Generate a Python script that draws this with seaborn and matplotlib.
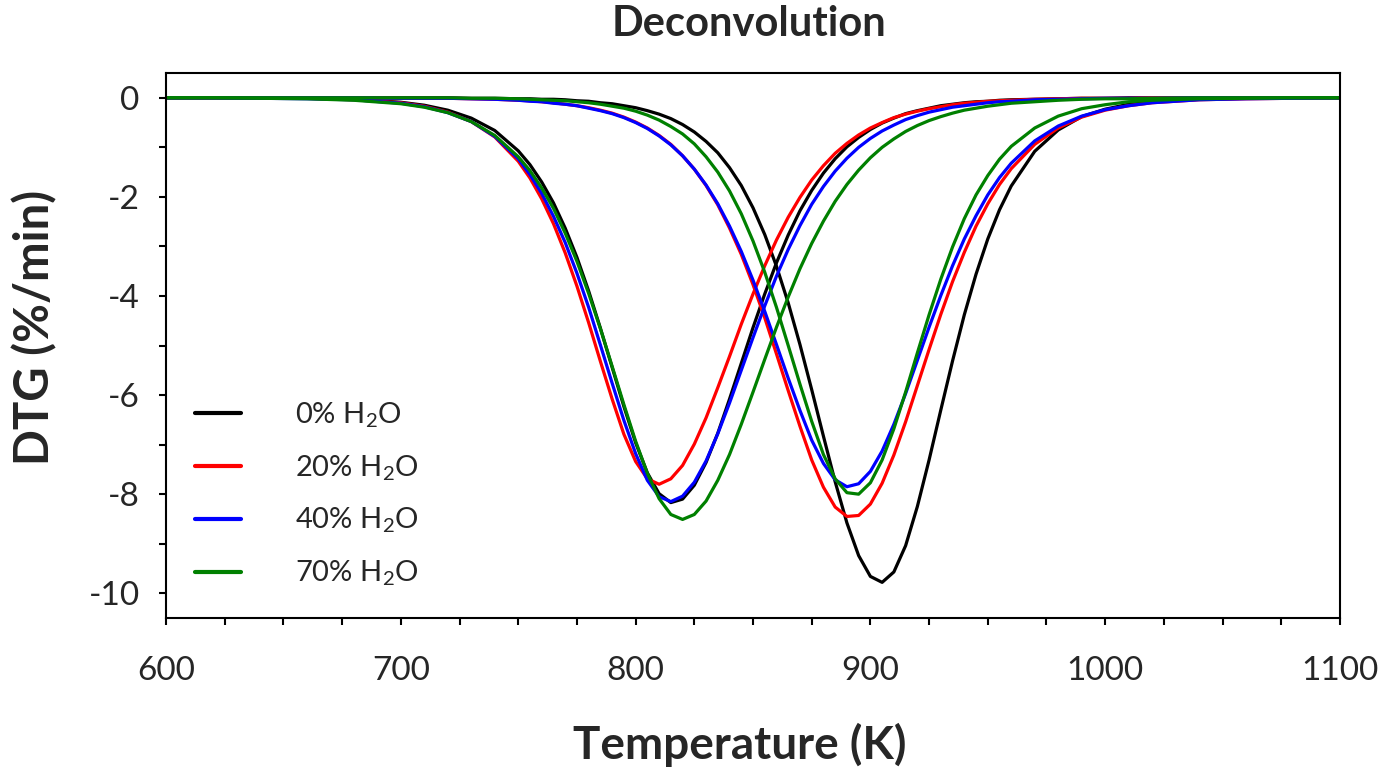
import pandas as pd
import seaborn as sns
import matplotlib.pyplot as plt
from matplotlib.ticker import MultipleLocator
from matplotlib.lines import Line2D

# temperature grid (K), finer around the peaks
temperature = [600, 620, 640, 660, 680, 700, 710, 720, 730, 740, 750,
               755, 760, 765, 770, 775, 780, 785, 790, 795, 800,
               805, 810, 815, 820, 825, 830, 835, 840, 845, 850,
               855, 860, 865, 870, 875, 880, 885, 890, 895, 900,
               905, 910, 915, 920, 925, 930, 935, 940, 945, 950,
               955, 960, 970, 980, 990, 1000, 1010, 1020, 1040, 1060, 1080, 1100]

labels = ["0% H$_2$O", "20% H$_2$O", "40% H$_2$O", "70% H$_2$O"]
colors = ["#000000", "#ff0000", "#0000ff", "#008000"]

# first (low temperature) deconvoluted peak, DTG in %/min
dtg1_0 = [0.00, 0.00, 0.00, -0.01, -0.03, -0.09, -0.15, -0.25, -0.41, -0.66, -1.07,
          -1.35, -1.70, -2.12, -2.63, -3.22, -3.90, -4.65, -5.44, -6.23, -6.96,
          -7.57, -7.99, -8.17, -8.10, -7.82, -7.36, -6.77, -6.08, -5.36, -4.64,
          -3.96, -3.33, -2.77, -2.28, -1.87, -1.52, -1.23, -0.99, -0.80, -0.64,
          -0.51, -0.41, -0.32, -0.26, -0.21, -0.16, -0.13, -0.10, -0.08, -0.07,
          -0.05, -0.04, -0.03, -0.02, -0.01, -0.01, 0.00, 0.00, 0.00, 0.00, 0.00, 0.00]
dtg1_20 = [0.00, 0.00, 0.00, -0.01, -0.04, -0.10, -0.17, -0.29, -0.48, -0.79, -1.28,
           -1.62, -2.04, -2.54, -3.13, -3.80, -4.54, -5.32, -6.08, -6.79, -7.34,
           -7.69, -7.80, -7.69, -7.42, -6.99, -6.46, -5.85, -5.22, -4.57, -3.96,
           -3.39, -2.87, -2.41, -2.01, -1.66, -1.37, -1.12, -0.92, -0.75, -0.61,
           -0.50, -0.40, -0.33, -0.27, -0.22, -0.18, -0.14, -0.11, -0.09, -0.07,
           -0.06, -0.05, -0.03, -0.02, -0.01, -0.01, -0.01, 0.00, 0.00, 0.00, 0.00, 0.00]
dtg1_40 = [0.00, 0.00, -0.01, -0.02, -0.04, -0.11, -0.18, -0.30, -0.48, -0.78, -1.23,
           -1.55, -1.93, -2.39, -2.92, -3.54, -4.23, -4.99, -5.76, -6.51, -7.18,
           -7.72, -8.05, -8.15, -8.04, -7.76, -7.33, -6.78, -6.16, -5.50, -4.84,
           -4.20, -3.60, -3.06, -2.58, -2.15, -1.79, -1.48, -1.22, -1.00, -0.82,
           -0.67, -0.55, -0.44, -0.36, -0.29, -0.24, -0.19, -0.16, -0.13, -0.10,
           -0.08, -0.07, -0.04, -0.03, -0.02, -0.01, -0.01, -0.01, 0.00, 0.00, 0.00, 0.00]
dtg1_70 = [0.00, 0.00, -0.01, -0.02, -0.05, -0.12, -0.19, -0.30, -0.48, -0.76, -1.19,
           -1.47, -1.82, -2.23, -2.73, -3.30, -3.95, -4.66, -5.42, -6.19, -6.93,
           -7.58, -8.09, -8.41, -8.51, -8.41, -8.14, -7.72, -7.20, -6.59, -5.94,
           -5.28, -4.63, -4.02, -3.45, -2.94, -2.49, -2.09, -1.75, -1.46, -1.21,
           -1.00, -0.83, -0.68, -0.56, -0.46, -0.38, -0.31, -0.25, -0.21, -0.17,
           -0.14, -0.11, -0.08, -0.05, -0.03, -0.02, -0.02, -0.01, 0.00, 0.00, 0.00, 0.00]

# second (high temperature) peak
dtg2_0 = [0.00, 0.00, 0.00, 0.00, 0.00, 0.00, 0.00, 0.00, -0.01, -0.01, -0.02,
          -0.02, -0.03, -0.03, -0.04, -0.06, -0.07, -0.10, -0.12, -0.16, -0.20,
          -0.26, -0.33, -0.42, -0.54, -0.69, -0.88, -1.11, -1.41, -1.77, -2.22,
          -2.76, -3.40, -4.14, -4.98, -5.89, -6.83, -7.75, -8.58, -9.24, -9.66,
          -9.78, -9.57, -9.04, -8.25, -7.31, -6.30, -5.31, -4.38, -3.56, -2.85,
          -2.26, -1.78, -1.08, -0.65, -0.38, -0.23, -0.13, -0.08, -0.03, -0.01, 0.00, 0.00]
dtg2_20 = [0.00, 0.00, 0.00, 0.00, 0.00, -0.01, -0.01, -0.01, -0.02, -0.03, -0.05,
           -0.06, -0.08, -0.10, -0.13, -0.16, -0.20, -0.25, -0.31, -0.39, -0.49,
           -0.61, -0.76, -0.94, -1.17, -1.44, -1.77, -2.16, -2.63, -3.16, -3.77,
           -4.44, -5.17, -5.91, -6.63, -7.31, -7.86, -8.26, -8.45, -8.43, -8.20,
           -7.78, -7.21, -6.54, -5.81, -5.08, -4.37, -3.71, -3.12, -2.59, -2.14,
           -1.75, -1.43, -0.94, -0.61, -0.39, -0.25, -0.16, -0.10, -0.04, -0.02, -0.01, 0.00]
dtg2_40 = [0.00, 0.00, 0.00, 0.00, 0.00, -0.01, -0.01, -0.01, -0.02, -0.03, -0.05,
           -0.07, -0.08, -0.11, -0.13, -0.16, -0.21, -0.26, -0.32, -0.40, -0.50,
           -0.62, -0.77, -0.95, -1.17, -1.44, -1.76, -2.14, -2.59, -3.10, -3.68,
           -4.31, -4.98, -5.66, -6.31, -6.91, -7.38, -7.71, -7.85, -7.79, -7.54,
           -7.13, -6.59, -5.97, -5.30, -4.63, -3.99, -3.39, -2.85, -2.38, -1.96,
           -1.61, -1.32, -0.87, -0.57, -0.37, -0.24, -0.16, -0.10, -0.04, -0.02, -0.01, 0.00]
dtg2_70 = [0.00, 0.00, 0.00, 0.00, 0.00, 0.00, 0.00, 0.00, -0.01, -0.01, -0.02,
           -0.03, -0.04, -0.05, -0.06, -0.08, -0.10, -0.13, -0.17, -0.21, -0.27,
           -0.35, -0.45, -0.58, -0.73, -0.93, -1.19, -1.50, -1.88, -2.34, -2.89,
           -3.52, -4.23, -5.00, -5.78, -6.53, -7.20, -7.69, -7.97, -8.00, -7.77,
           -7.31, -6.68, -5.94, -5.15, -4.38, -3.66, -3.01, -2.44, -1.96, -1.57,
           -1.24, -0.98, -0.61, -0.37, -0.22, -0.14, -0.08, -0.05, -0.02, -0.01, 0.00, 0.00]

first_peaks = [dtg1_0, dtg1_20, dtg1_40, dtg1_70]
second_peaks = [dtg2_0, dtg2_20, dtg2_40, dtg2_70]

frames = []
for lab, p1, p2 in zip(labels, first_peaks, second_peaks):
    frames.append(pd.DataFrame({"T": temperature, "DTG": p1, "series": lab, "peak": "1"}))
    frames.append(pd.DataFrame({"T": temperature, "DTG": p2, "series": lab, "peak": "2"}))
df = pd.concat(frames, ignore_index=True)

sns.set_style("ticks")
plt.rcParams["font.family"] = ["Lato", "DejaVu Sans"]
plt.rcParams["axes.unicode_minus"] = False
plt.rcParams["mathtext.fontset"] = "custom"
plt.rcParams["mathtext.rm"] = "Lato"
plt.rcParams["mathtext.it"] = "Lato:italic"
plt.rcParams["mathtext.bf"] = "Lato:bold"
plt.rcParams["mathtext.default"] = "rm"

fig = plt.figure(figsize=(13.92, 7.71), dpi=100)
ax = fig.add_axes([0.1193, 0.1984, 0.8433, 0.7069])

sns.lineplot(data=df, x="T", y="DTG", hue="series", units="peak", estimator=None,
             hue_order=labels, palette=dict(zip(labels, colors)),
             linewidth=2.3, legend=False, ax=ax)
for ln in ax.lines:
    ln.set_solid_joinstyle("round")

ax.set_xlim(600, 1100)
ax.set_ylim(-10.5, 0.5)
ax.xaxis.set_major_locator(MultipleLocator(100))
ax.xaxis.set_minor_locator(MultipleLocator(25))
ax.yaxis.set_major_locator(MultipleLocator(2))
ax.yaxis.set_minor_locator(MultipleLocator(1))
ax.tick_params(which="both", direction="out", length=5, width=1.5, color="black")
ax.tick_params(axis="x", labelsize=24, pad=22)
ax.tick_params(axis="y", labelsize=24, pad=14)
for s in ax.spines.values():
    s.set_visible(True)
    s.set_linewidth(1.5)
    s.set_color("black")

ax.set_xlabel("Temperature (K)", fontsize=33, fontweight="bold")
ax.xaxis.set_label_coords(0.489, -0.233)
ax.xaxis.label.set_va("center")
ax.set_ylabel("DTG (%/min)", fontsize=34, fontweight="bold")
ax.yaxis.set_label_coords(-0.1116, 0.534)
ax.yaxis.label.set_va("center")
fig.text(0.538, 1 - 24 / 771, "Deconvolution", ha="center", va="center",
         fontsize=30, fontweight="bold")

handles = [Line2D([], [], color=c, lw=3) for c in colors]
ax.legend(handles, labels, loc="center left", bbox_to_anchor=(0.025, 0.227),
          frameon=False, fontsize=21, handlelength=1.55, handletextpad=1.85,
          labelspacing=0.8, borderpad=0, borderaxespad=0)

fig.savefig("out.png", dpi=100)
